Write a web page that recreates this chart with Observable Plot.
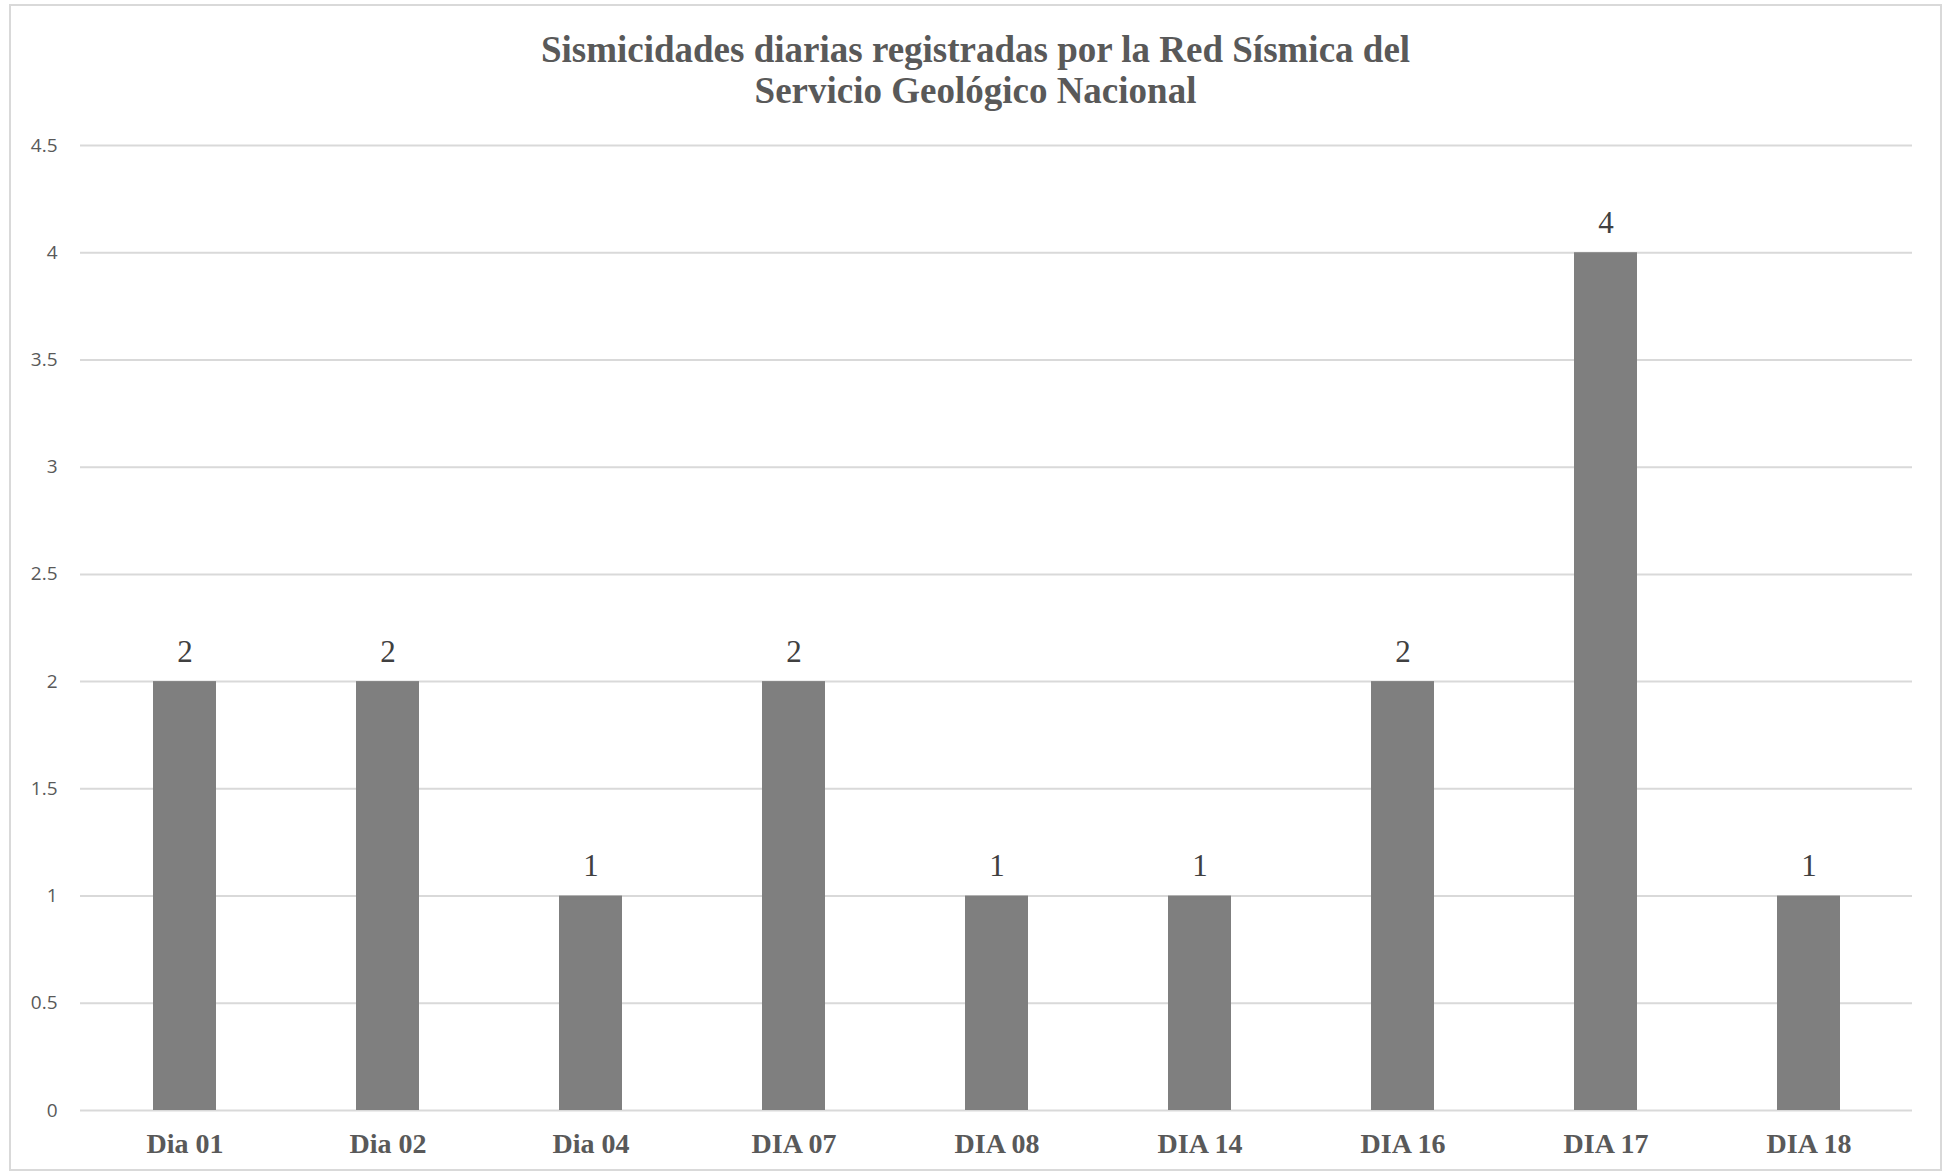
<!DOCTYPE html>
<html>
<head>
<meta charset="utf-8">
<script src="https://cdn.jsdelivr.net/npm/d3@7"></script>
<script src="https://cdn.jsdelivr.net/npm/@observablehq/plot@0.6"></script>
<style>
  html, body { margin: 0; padding: 0; background: #fff; }
  #page { position: relative; width: 1950px; height: 1173px; overflow: hidden; }
  #frame { position: absolute; left: 9px; top: 4px; width: 1929px; height: 1163px; border: 2px solid #d9d9d9; }
  #title { position: absolute; left: 10px; top: 29px; width: 1931px; text-align: center;
           font-family: "Liberation Serif", "Times New Roman", serif; font-weight: bold;
           font-size: 37px; line-height: 41px; color: #595959; }
  #chart { position: absolute; left: 0; top: 115px; }
</style>
</head>
<body>
<div id="page">
  <div id="frame"></div>
  <div id="title">Sismicidades diarias registradas por la Red Sísmica del<br>Servicio Geológico Nacional</div>
  <div id="chart"></div>
</div>
<script>
const days = ["Dia 01", "Dia 02", "Dia 04", "DIA 07", "DIA 08", "DIA 14", "DIA 16", "DIA 17", "DIA 18"];
const counts = [2, 2, 1, 2, 1, 1, 2, 4, 1];
const yTicks = [0, 0.5, 1, 1.5, 2, 2.5, 3, 3.5, 4, 4.5];

const data = days.map((d, i) => ({day: d, count: counts[i]}));
const serif = "'Liberation Serif', 'Times New Roman', serif";
const sans = "'Open Sans', 'Liberation Sans', sans-serif";

const chart = Plot.plot({
  width: 1950,
  height: 1058,
  marginLeft: 80,
  marginRight: 38,
  marginTop: 30,
  marginBottom: 63,
  style: {background: "transparent"},
  x: {domain: days, paddingInner: 0.69, paddingOuter: 0.345, label: null},
  y: {domain: [0, 4.5], label: null},
  marks: [
    Plot.ruleY(yTicks, {stroke: "#d9d9d9", strokeWidth: 2}),
    Plot.barY(data, {x: "day", y: "count", fill: "#7f7f7f"}),
    Plot.text(data, {x: "day", y: "count", text: d => String(d.count), lineAnchor: "bottom", dy: -20,
      fontFamily: serif, fontSize: 31, fill: "#404040"}),
    Plot.axisY({ticks: yTicks, tickFormat: d => String(d), tickSize: 0, tickPadding: 23,
      fontFamily: sans, fontSize: 19, fill: "#595959", label: null}),
    Plot.axisX({tickSize: 0, tickPadding: 23, fontFamily: serif,
      fontSize: 28, fontWeight: "bold", fill: "#595959", label: null})
  ]
});
document.getElementById("chart").appendChild(chart);
</script>
</body>
</html>
